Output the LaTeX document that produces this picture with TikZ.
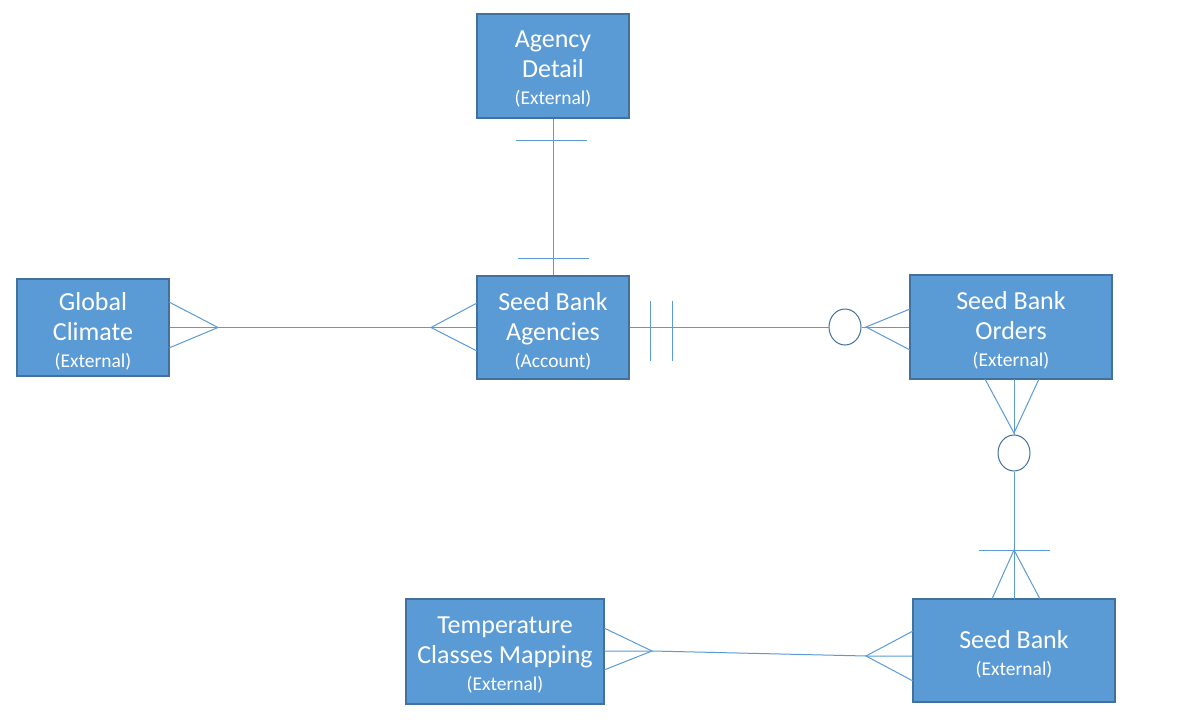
\documentclass[tikz,border=0pt]{standalone}
\usepackage{fontspec}
\setmainfont{Carlito}
\usetikzlibrary{shapes.geometric}
\definecolor{boxfill}{HTML}{5B9BD5}
\definecolor{boxline}{HTML}{41719C}
\newcommand{\bigf}{\fontsize{26}{30}\selectfont}
\newcommand{\smallf}{\fontsize{19.5}{24}\selectfont}
\begin{document}
\begin{tikzpicture}[x=1pt,y=-1pt,
  entity/.style={draw=boxline, fill=boxfill, line width=1.2pt, inner sep=0pt},
  etext/.style={text=white, align=center, inner sep=0pt, font=\bigf, yshift=-3.5pt},
  rel/.style={draw=boxfill, line width=1pt},
  ring/.style={ellipse, draw=boxline, fill=white, line width=1pt, inner sep=0pt, minimum width=32, minimum height=36}]
\fill[white] (0,0) rectangle (1179,720);
\useasboundingbox (0,0) rectangle (1179,720);

% entities
\node[entity, minimum width=152, minimum height=104,
  label={[etext]center:Agency\\Detail\\[-3pt]{\smallf (External)}}] (agd) at (553,66) {};
\node[entity, minimum width=152, minimum height=97,
  label={[etext]center:Global\\Climate\\[-3pt]{\smallf (External)}}] (gc) at (93,327.5) {};
\node[entity, minimum width=152, minimum height=103,
  label={[etext]center:Seed Bank\\Agencies\\[-3pt]{\smallf (Account)}}] (sba) at (553,327.5) {};
\node[entity, minimum width=202, minimum height=104,
  label={[etext]center:Seed Bank\\Orders\\[-3pt]{\smallf (External)}}] (sbo) at (1011,327) {};
\node[entity, minimum width=202, minimum height=103,
  label={[etext]center:Seed Bank\\[-3pt]{\smallf (External)}}] (sb) at (1014,650.5) {};
\node[entity, minimum width=198, minimum height=105,
  label={[etext]center:Temperature\\Classes Mapping\\[-3pt]{\smallf (External)}}] (tcm) at (505,651.5) {};

% optional-markers
\node[ring] (c1) at (845,327) {};
\node[ring] (c2) at (1014,453) {};

% Agency Detail -- Seed Bank Agencies (one to one)
\draw[rel] (agd.south) -- (sba.north);
\draw[rel] (516,140) -- (587,140);
\draw[rel] (518,258) -- (589,258);

% Global Climate -- Seed Bank Agencies (many to many)
\draw[rel] (gc.east) -- (sba.west);
\draw[rel] (169,302) -- (218,327.5) -- (169,348);
\draw[rel] (477,303) -- (431,327.5) -- (477,351);

% Seed Bank Agencies -- Seed Bank Orders
\draw[rel] (sba.east |- c1.west) -- (c1.west);
\draw[rel] (c1.east) -- (sbo.west |- c1.east);
\draw[rel] (650,301) -- (650,361);
\draw[rel] (672,301) -- (672,361);
\draw[rel] (910,309) -- (866,327) -- (910,350);

% Seed Bank Orders -- Seed Bank
\coordinate (o4) at (1014,379);
\coordinate (s4) at (1014,599);
\draw[rel] (o4) -- (c2.north);
\draw[rel] (c2.south) -- (s4);
\draw[rel] (985,379) -- (1014,433) -- (1039,379);
\draw[rel] (979,550) -- (1050,550);
\draw[rel] (992,599) -- (1014,550) -- (1040,599);

% Temperature Classes Mapping -- Seed Bank
\coordinate (ta) at (652,651);
\coordinate (sa) at (866,656);
\draw[rel] (tcm.east |- ta) -- (ta) -- (sa) -- (sb.west |- sa);
\draw[rel] (604,628) -- (ta) -- (604,670);
\draw[rel] (913,631) -- (sa) -- (913,681);
\end{tikzpicture}
\end{document}
